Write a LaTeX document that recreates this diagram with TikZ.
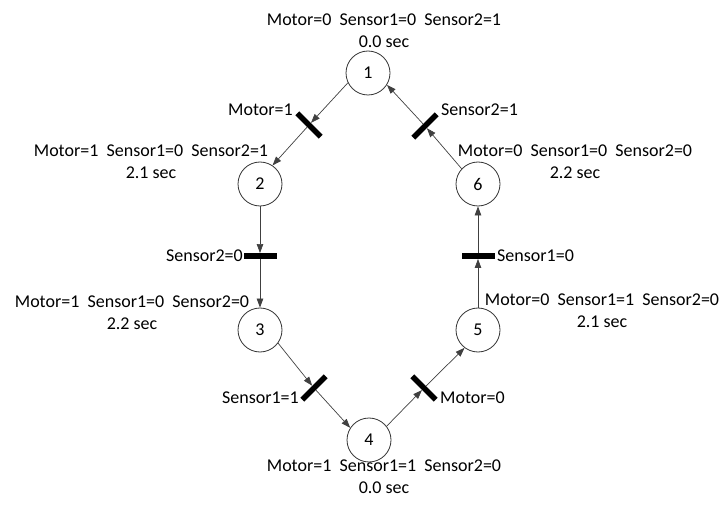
\documentclass[tikz,border=0pt]{standalone}
\usepackage{fontspec}
\setmainfont{Carlito}
\usetikzlibrary{arrows.meta}

\begin{document}
\begin{tikzpicture}[x=1pt, y=1pt,
		place/.style={draw=black!80, line width=0.8pt, circle, minimum size=44pt, inner sep=0pt, font=\fontsize{18}{22}\selectfont},
		trans/.style={fill=black, rectangle, minimum width=33pt, minimum height=5.5pt, inner sep=0pt},
		arc/.style={draw=black!75, line width=0.7pt, -{Triangle[length=9pt, width=6.5pt]}},
		lbl/.style={align=center, inner sep=0pt, font=\fontsize{18}{22}\selectfont}]
			\useasboundingbox (0, 0) rectangle (721, 507);

			\draw (368, 434) 	node[place] 	(p1) 		{1};
			\draw (260, 323) 	node[place] 	(p2) 		{2};
			\draw (260, 177) 	node[place] 	(p3) 		{3};
			\draw (369, 67) 	node[place] 	(p4) 		{4};
			\draw (478, 177) 	node[place] 	(p5) 		{5};
			\draw (478, 323) 	node[place] 	(p6) 		{6};

			\draw (309, 382) 	node[trans, rotate=-45] 	(t1) 	{};
			\draw (260, 251) 	node[trans] 				(t2) 	{};
			\draw (314, 119) 	node[trans, rotate=45] 		(t3) 	{};
			\draw (424, 119) 	node[trans, rotate=-45] 	(t4) 	{};
			\draw (478, 251) 	node[trans] 				(t5) 	{};
			\draw (425, 381) 	node[trans, rotate=45] 		(t6) 	{};

			\draw (384, 476) 	node[lbl] 	(l1) 	{Motor=0\ \ Sensor1=0\ \ Sensor2=1\\0.0 sec};
			\draw (151, 345) 	node[lbl] 	(l2) 	{Motor=1\ \ Sensor1=0\ \ Sensor2=1\\2.1 sec};
			\draw (132, 194) 	node[lbl] 	(l3) 	{Motor=1\ \ Sensor1=0\ \ Sensor2=0\\2.2 sec};
			\draw (384, 30) 	node[lbl] 	(l4) 	{Motor=1\ \ Sensor1=1\ \ Sensor2=0\\0.0 sec};
			\draw (602, 196) 	node[lbl] 	(l5) 	{Motor=0\ \ Sensor1=1\ \ Sensor2=0\\2.1 sec};
			\draw (575, 345) 	node[lbl] 	(l6) 	{Motor=0\ \ Sensor1=0\ \ Sensor2=0\\2.2 sec};

			\draw (293, 397) 	node[lbl, anchor=east] 	(c1) 	{Motor=1};
			\draw (243, 251) 	node[lbl, anchor=east] 	(c2) 	{Sensor2=0};
			\draw (299, 109) 	node[lbl, anchor=east] 	(c3) 	{Sensor1=1};
			\draw (440, 109) 	node[lbl, anchor=west] 	(c4) 	{Motor=0};
			\draw (497, 251) 	node[lbl, anchor=west] 	(c5) 	{Sensor1=0};
			\draw (441, 397) 	node[lbl, anchor=west] 	(c6) 	{Sensor2=1};

			\draw[arc] (p1.206) -- (t1);
			\draw[arc] (t1) -- (p2.56);
			\draw[arc] (p2) -- (t2);
			\draw[arc] (t2) -- (p3);
			\draw[arc] (p3.-36) -- (t3);
			\draw[arc] (t3) -- (p4.147);
			\draw[arc] (p4.38) -- (t4);
			\draw[arc] (t4) -- (p5.233);
			\draw[arc] (p5) -- (t5);
			\draw[arc] (t5) -- (p6);
			\draw[arc] (p6.137) -- (t6);
			\draw[arc] (t6) -- (p1.328);
		\end{tikzpicture}
\end{document}
